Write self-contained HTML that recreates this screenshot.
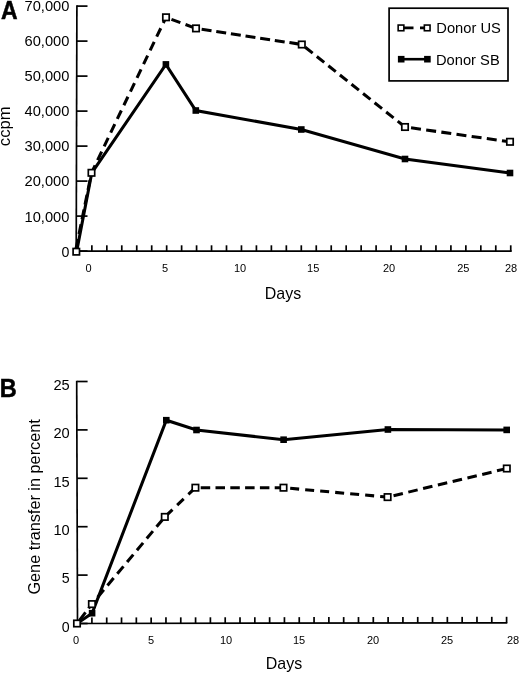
<!DOCTYPE html>
<html><head><meta charset="utf-8"><title>Figure</title>
<style>html,body{margin:0;padding:0;background:#fff}svg{display:block;filter:blur(0.35px)}</style></head>
<body>
<svg width="520" height="674" viewBox="0 0 520 674" font-family="'Liberation Sans', Arial, Helvetica, sans-serif" fill="#000">
<rect width="520" height="674" fill="#fff"/>
<g stroke="#000" stroke-width="1.7" fill="none">
<path d="M76.9,5.2L76.2,252.04999999999998"/>
<path d="M76.90,6.1H87.5"/>
<path d="M76.80,41.1H87.5"/>
<path d="M76.70,76.1H87.5"/>
<path d="M76.60,111.1H87.5"/>
<path d="M76.50,146.1H87.5"/>
<path d="M76.40,181.1H87.5"/>
<path d="M76.30,216.1H87.5"/>
<path d="M76.20,251.1H87.5"/>
<path d="M76.2,251.2H511.7"/>
<path d="M91.86,251.2V245.3"/>
<path d="M106.82,251.2V245.3"/>
<path d="M121.78,251.2V245.3"/>
<path d="M136.74,251.2V245.3"/>
<path d="M151.70,251.2V245.3"/>
<path d="M166.66,251.2V245.3"/>
<path d="M181.62,251.2V245.3"/>
<path d="M196.58,251.2V245.3"/>
<path d="M211.54,251.2V245.3"/>
<path d="M226.50,251.2V245.3"/>
<path d="M241.46,251.2V245.3"/>
<path d="M256.42,251.2V245.3"/>
<path d="M271.38,251.2V245.3"/>
<path d="M286.34,251.2V245.3"/>
<path d="M301.30,251.2V245.3"/>
<path d="M316.26,251.2V245.3"/>
<path d="M331.22,251.2V245.3"/>
<path d="M346.18,251.2V245.3"/>
<path d="M361.14,251.2V245.3"/>
<path d="M376.10,251.2V245.3"/>
<path d="M391.06,251.2V245.3"/>
<path d="M406.02,251.2V245.3"/>
<path d="M420.98,251.2V245.3"/>
<path d="M435.94,251.2V245.3"/>
<path d="M450.90,251.2V245.3"/>
<path d="M465.86,251.2V245.3"/>
<path d="M480.82,251.2V245.3"/>
<path d="M495.78,251.2V245.3"/>
<path d="M510.74,251.2V245.3"/>
</g>
<g font-size="14.3" text-anchor="end">
<text x="69.4" y="10.5" textLength="44.9" lengthAdjust="spacingAndGlyphs">70,000</text>
<text x="69.4" y="46.0" textLength="44.9" lengthAdjust="spacingAndGlyphs">60,000</text>
<text x="69.4" y="81.1" textLength="44.9" lengthAdjust="spacingAndGlyphs">50,000</text>
<text x="69.4" y="116.1" textLength="44.9" lengthAdjust="spacingAndGlyphs">40,000</text>
<text x="69.4" y="151.3" textLength="44.9" lengthAdjust="spacingAndGlyphs">30,000</text>
<text x="69.4" y="186.4" textLength="44.9" lengthAdjust="spacingAndGlyphs">20,000</text>
<text x="69.4" y="221.6" textLength="44.9" lengthAdjust="spacingAndGlyphs">10,000</text>
<text x="69.4" y="256.6" textLength="7.9" lengthAdjust="spacingAndGlyphs">0</text>
</g>
<g font-size="11" text-anchor="middle">
<text x="88.6" y="272">0</text>
<text x="165" y="272">5</text>
<text x="240" y="272">10</text>
<text x="313.2" y="272">15</text>
<text x="389" y="272">20</text>
<text x="463.3" y="272">25</text>
<text x="511" y="272">28</text>
</g>
<text x="264.8" y="298.7" font-size="15.7" textLength="36.4" lengthAdjust="spacingAndGlyphs">Days</text>
<text transform="translate(9.5,146.2) rotate(-90)" font-size="15.7" textLength="39.9" lengthAdjust="spacingAndGlyphs">ccpm</text>
<text x="0.9" y="18.7" font-size="25.2" font-weight="bold" stroke="#000" stroke-width="0.5" textLength="16.6" lengthAdjust="spacingAndGlyphs">A</text>
<path d="M75.4,251.7L91.5,172.8" fill="none" stroke="#000" stroke-width="3.05" stroke-dasharray="10 5" stroke-dashoffset="12.00"/>
<path d="M91.5,172.8L166,17.3" fill="none" stroke="#000" stroke-width="3.05" stroke-dasharray="9.4 5.8" stroke-dashoffset="1.10"/>
<path d="M166,17.3L196,28.4" fill="none" stroke="#000" stroke-width="3.05" stroke-dasharray="9.5 5.5" stroke-dashoffset="9.20"/>
<path d="M196,28.4L301.8,44.5" fill="none" stroke="#000" stroke-width="3.05" stroke-dasharray="10 4.8" stroke-dashoffset="9.10"/>
<path d="M301.8,44.5L405,127" fill="none" stroke="#000" stroke-width="3.05" stroke-dasharray="9.5 5.3" stroke-dashoffset="10.40"/>
<path d="M405,127L510,141.8" fill="none" stroke="#000" stroke-width="3.05" stroke-dasharray="10 5.3" stroke-dashoffset="9.20"/>
<polyline points="76.6,251.7 91.8,172.8 165.9,64.4 195.8,110.5 301.3,129.5 405,159 510,173" fill="none" stroke="#000" stroke-width="3.05" stroke-linejoin="miter"/>
<rect x="162.60" y="61.10" width="6.6" height="6.6" fill="#000"/>
<rect x="192.50" y="107.20" width="6.6" height="6.6" fill="#000"/>
<rect x="298.00" y="126.20" width="6.6" height="6.6" fill="#000"/>
<rect x="401.70" y="155.70" width="6.6" height="6.6" fill="#000"/>
<rect x="506.70" y="169.70" width="6.6" height="6.6" fill="#000"/>
<rect x="73.10" y="248.50" width="6.4" height="6.4" fill="#fff" stroke="#000" stroke-width="1.7"/>
<rect x="88.30" y="169.60" width="6.4" height="6.4" fill="#fff" stroke="#000" stroke-width="1.7"/>
<rect x="162.80" y="14.10" width="6.4" height="6.4" fill="#fff" stroke="#000" stroke-width="1.7"/>
<rect x="192.80" y="25.20" width="6.4" height="6.4" fill="#fff" stroke="#000" stroke-width="1.7"/>
<rect x="298.60" y="41.30" width="6.4" height="6.4" fill="#fff" stroke="#000" stroke-width="1.7"/>
<rect x="401.80" y="123.80" width="6.4" height="6.4" fill="#fff" stroke="#000" stroke-width="1.7"/>
<rect x="506.80" y="138.60" width="6.4" height="6.4" fill="#fff" stroke="#000" stroke-width="1.7"/>
<rect x="389.1" y="8.2" width="118.9" height="72.7" fill="#fff" stroke="#000" stroke-width="1.7"/>
<path d="M401,27.9H413.5M420,27.9H427.5" stroke="#000" stroke-width="2.6"/>
<rect x="398.15" y="25.05" width="5.7" height="5.7" fill="#fff" stroke="#000" stroke-width="1.6"/>
<rect x="424.35" y="25.05" width="5.7" height="5.7" fill="#fff" stroke="#000" stroke-width="1.6"/>
<path d="M401,59.2H428" stroke="#000" stroke-width="2.6"/>
<rect x="397.90" y="55.90" width="6.6" height="6.6" fill="#000"/>
<rect x="424.10" y="55.90" width="6.6" height="6.6" fill="#000"/>
<text x="436.3" y="33.3" font-size="14.7">Donor US</text>
<text x="436.0" y="64.6" font-size="14.7">Donor SB</text>
<g stroke="#000" stroke-width="1.7" fill="none">
<path d="M76.69999999999999,380.7L77.5,624.2"/>
<path d="M77.1,381.5H87.6"/>
<path d="M77.1,429.9H87.6"/>
<path d="M77.1,478.3H87.6"/>
<path d="M77.1,526.7H87.6"/>
<path d="M77.1,575.1H87.6"/>
<path d="M77.1,623.5H87.6"/>
<path d="M77.1,623.5L507.3,622.8"/>
<path d="M91.91,623.48V617.48"/>
<path d="M106.72,623.45V617.45"/>
<path d="M121.53,623.43V617.43"/>
<path d="M136.34,623.40V617.40"/>
<path d="M151.15,623.38V617.38"/>
<path d="M165.96,623.36V617.36"/>
<path d="M180.77,623.33V617.33"/>
<path d="M195.58,623.31V617.31"/>
<path d="M210.39,623.28V617.28"/>
<path d="M225.20,623.26V617.26"/>
<path d="M240.01,623.23V617.23"/>
<path d="M254.82,623.21V617.21"/>
<path d="M269.63,623.19V617.19"/>
<path d="M284.44,623.16V617.16"/>
<path d="M299.25,623.14V617.14"/>
<path d="M314.06,623.11V617.11"/>
<path d="M328.87,623.09V617.09"/>
<path d="M343.68,623.07V617.07"/>
<path d="M358.49,623.04V617.04"/>
<path d="M373.30,623.02V617.02"/>
<path d="M388.11,622.99V616.99"/>
<path d="M402.92,622.97V616.97"/>
<path d="M417.73,622.94V616.94"/>
<path d="M432.54,622.92V616.92"/>
<path d="M447.35,622.90V616.90"/>
<path d="M462.16,622.87V616.87"/>
<path d="M476.97,622.85V616.85"/>
<path d="M491.78,622.82V616.82"/>
<path d="M506.59,622.80V616.80"/>
</g>
<g font-size="14.3" text-anchor="end">
<text x="69.7" y="389.7" textLength="16.3" lengthAdjust="spacingAndGlyphs">25</text>
<text x="69.7" y="438.1" textLength="16.3" lengthAdjust="spacingAndGlyphs">20</text>
<text x="69.7" y="486.5" textLength="16.3" lengthAdjust="spacingAndGlyphs">15</text>
<text x="69.7" y="534.9" textLength="16.3" lengthAdjust="spacingAndGlyphs">10</text>
<text x="69.7" y="583.3" textLength="7.9" lengthAdjust="spacingAndGlyphs">5</text>
<text x="69.7" y="631.7" textLength="7.9" lengthAdjust="spacingAndGlyphs">0</text>
</g>
<g font-size="11" text-anchor="middle">
<text x="76" y="644.2">0</text>
<text x="151" y="644.2">5</text>
<text x="226" y="644.2">10</text>
<text x="299" y="644.2">15</text>
<text x="373" y="644.2">20</text>
<text x="447.1" y="644.2">25</text>
<text x="513" y="644.2">28</text>
</g>
<text x="265.8" y="669.3" font-size="15.7" textLength="36.4" lengthAdjust="spacingAndGlyphs">Days</text>
<text transform="translate(40.4,594.6) rotate(-90)" font-size="16" textLength="175.4" lengthAdjust="spacingAndGlyphs">Gene transfer in percent</text>
<text x="-0.3" y="396.6" font-size="25.4" font-weight="bold" stroke="#000" stroke-width="0.5" textLength="17" lengthAdjust="spacingAndGlyphs">B</text>
<path d="M77,623.5L91.9,604.1" fill="none" stroke="#000" stroke-width="3.05" stroke-dasharray="10 5" stroke-dashoffset="11.00"/>
<path d="M91.9,604.1L164.8,516.9" fill="none" stroke="#000" stroke-width="3.05" stroke-dasharray="9.6 5.7" stroke-dashoffset="6.30"/>
<path d="M164.8,516.9L195.4,487.7" fill="none" stroke="#000" stroke-width="3.05" stroke-dasharray="9 6.5" stroke-dashoffset="13.90"/>
<path d="M195.4,487.7L283.5,487.7" fill="none" stroke="#000" stroke-width="3.05" stroke-dasharray="9.5 5.3" stroke-dashoffset="9.50"/>
<path d="M283.5,487.7L387.6,497.1" fill="none" stroke="#000" stroke-width="3.05" stroke-dasharray="9 6.06" stroke-dashoffset="8.36"/>
<path d="M387.6,497.1L506.8,468.5" fill="none" stroke="#000" stroke-width="3.05" stroke-dasharray="9.6 5.6" stroke-dashoffset="9.10"/>
<polyline points="77,623.5 92.1,613.2 166.3,420.2 196.5,430 283.6,439.7 387.9,429.5 506.7,429.9" fill="none" stroke="#000" stroke-width="3.05"/>
<rect x="88.80" y="609.90" width="6.6" height="6.6" fill="#000"/>
<rect x="163.00" y="416.90" width="6.6" height="6.6" fill="#000"/>
<rect x="193.20" y="426.70" width="6.6" height="6.6" fill="#000"/>
<rect x="280.30" y="436.40" width="6.6" height="6.6" fill="#000"/>
<rect x="384.60" y="426.20" width="6.6" height="6.6" fill="#000"/>
<rect x="503.40" y="426.60" width="6.6" height="6.6" fill="#000"/>
<rect x="73.80" y="620.30" width="6.4" height="6.4" fill="#fff" stroke="#000" stroke-width="1.7"/>
<rect x="88.70" y="600.90" width="6.4" height="6.4" fill="#fff" stroke="#000" stroke-width="1.7"/>
<rect x="161.60" y="513.70" width="6.4" height="6.4" fill="#fff" stroke="#000" stroke-width="1.7"/>
<rect x="192.20" y="484.50" width="6.4" height="6.4" fill="#fff" stroke="#000" stroke-width="1.7"/>
<rect x="280.30" y="484.50" width="6.4" height="6.4" fill="#fff" stroke="#000" stroke-width="1.7"/>
<rect x="384.40" y="493.90" width="6.4" height="6.4" fill="#fff" stroke="#000" stroke-width="1.7"/>
<rect x="503.60" y="465.30" width="6.4" height="6.4" fill="#fff" stroke="#000" stroke-width="1.7"/>
</svg>
</body></html>
